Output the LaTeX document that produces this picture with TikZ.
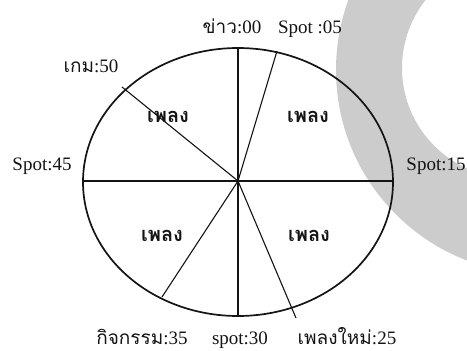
\documentclass[tikz,border=0pt]{standalone}
\usepackage{fontspec}
\setmainfont{Liberation Serif}
\newfontfamily\thaifont[Script=Thai]{Loma}
\usetikzlibrary{positioning}
\definecolor{scanGrey}{RGB}{204,204,204}
\definecolor{scanInk}{RGB}{20,20,20}

\begin{document}
\begin{tikzpicture}[
    x=1pt, y=-1pt,
    rim/.style={draw=scanInk, line width=1.7pt},
    spoke/.style={draw=scanInk, line width=1.1pt},
    lbl/.style={inner sep=0pt, anchor=base, font=\fontsize{19}{21}\selectfont, text=scanInk},
    sector/.style={inner sep=0pt, anchor=base, font=\fontsize{20}{22}\selectfont\thaifont\bfseries, text=scanInk}
]
    \useasboundingbox (0,0) rectangle (467,351);
    % grey band of the scan
    \begin{scope}
        \clip (0,0) rectangle (467,351);
        \fill[scanGrey, even odd rule] (540,70) circle[radius=204] (512,68) circle[radius=110];
    \end{scope}

    \coordinate (hub) at (238,181);
    \draw[rim] (238,182) ellipse[x radius=155, y radius=134];

    % end points of the spokes
    \coordinate (m00) at (238,48);
    \coordinate (m05) at (277,51);
    \coordinate (m15) at (392,181);
    \coordinate (m25) at (296,318);
    \coordinate (m30) at (238,316);
    \coordinate (m35) at (162,297);
    \coordinate (m45) at (83,181);
    \coordinate (m50) at (122,87);

    \foreach \m in {m00,m05,m15,m25,m30,m35,m45,m50}
        \draw[spoke] (hub) -- (\m);

    % time marks
    \node[lbl] (news) at (232,33) {{\thaifont ข่าว}:00};
    \node[lbl] (spot05) at (310,33) {Spot :05};
    \node[lbl] (game) at (91,72) {{\thaifont เกม}:50};
    \node[lbl] (spot45) at (42,170) {Spot:45};
    \node[lbl] (spot15) at (436,170) {Spot:15};
    \node[lbl] (event) at (142,344) {{\thaifont กิจกรรม}:35};
    \node[lbl] (spot30) at (240,344) {spot:30};
    \node[lbl] (newsong) at (347,344) {{\thaifont เพลงใหม่}:25};

    % songs in the sectors
    \node[sector] (songA) at (168,122) {เพลง};
    \node[sector] (songB) at (308,122) {เพลง};
    \node[sector] (songC) at (162,241) {เพลง};
    \node[sector] (songD) at (309,241) {เพลง};
\end{tikzpicture}
\end{document}
